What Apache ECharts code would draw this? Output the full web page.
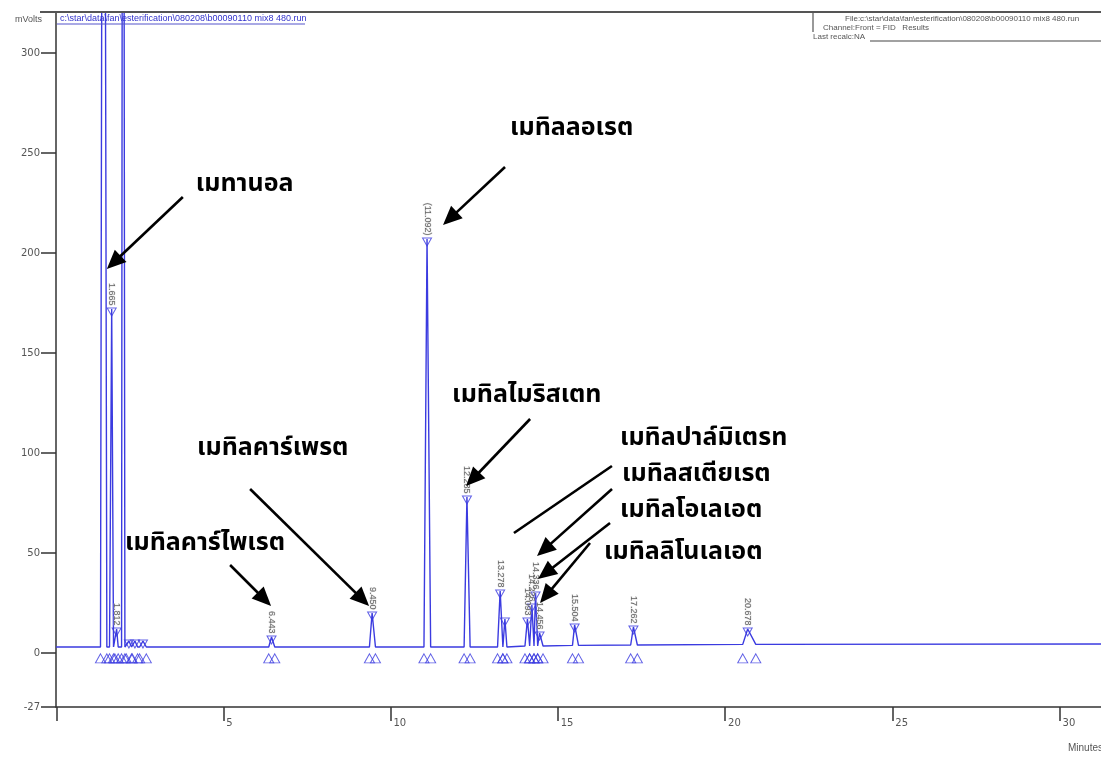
<!DOCTYPE html>
<html>
<head>
<meta charset="utf-8">
<script src="https://cdn.jsdelivr.net/npm/echarts@6/dist/echarts.min.js"></script>
<style>
  html, body { margin: 0; padding: 0; background: #fff; }
  #chart { width: 1101px; height: 757px; }
</style>
</head>
<body>
<div id="chart"></div>
<script>
// FID chromatogram of the esterification product (retention time in minutes, signal in mV)
const peakApex   = [1.42, 1.665, 1.812, 2.003, 2.18, 2.36, 2.60, 6.443, 9.450, 11.092, 12.285, 13.278, 13.42, 14.093, 14.226, 14.336, 14.456, 15.504, 17.262, 20.678];
const peakHeight = [800, 172, 12, 800, 6, 6, 6, 8, 20, 207, 78, 31, 17, 17, 24, 30, 10, 14, 13, 12];
const peakStart  = [1.33, 1.60, 1.76, 1.96, 2.10, 2.28, 2.50, 6.36, 9.37, 11.00, 12.20, 13.20, 13.36, 14.02, 14.16, 14.29, 14.40, 15.44, 17.18, 20.53];
const peakEnd    = [1.52, 1.72, 1.86, 2.06, 2.26, 2.44, 2.70, 6.54, 9.55, 11.20, 12.38, 13.36, 13.48, 14.16, 14.29, 14.40, 14.56, 15.62, 17.38, 20.92];
const peakBase   = [3, 3, 3, 3, 3, 3, 3, 3, 3, 3, 3, 3, 3, 3.5, 3.5, 3.5, 3.5, 3.8, 4.0, 4.3];
const peakLabel  = ['', '1.665', '1.812', '', '', '', '', '6.443', '9.450', '(11.092)', '12.285', '13.278', '', '14.093', '14.226', '14.336', '14.456', '15.504', '17.262', '20.678'];
const runStart = [0, 3];
const runEnd = [31.24, 4.5];

// axis ticks
const xMin = 0, xMax = 31.24, xStep = 5;
const yTicks = [-27, 0, 50, 100, 150, 200, 250, 300];
const yMin = -27, yMax = 320;
const integMarkLevel = -2.7;

// compound names and the point (time, mV) each arrow points at
const compoundNames = ['เมทานอล', 'เมทิลลอเรต', 'เมทิลไมริสเตท', 'เมทิลคาร์เพรต', 'เมทิลคาร์ไพเรต', 'เมทิลปาล์มิเตรท', 'เมทิลสเตียเรต', 'เมทิลโอเลเอต', 'เมทิลลิโนเลเอต'];
const compoundTarget = [[1.52, 192], [11.57, 214], [12.26, 83.5], [9.36, 23.5], [6.43, 23.5], [13.69, 60], [14.38, 48.5], [14.41, 37], [14.47, 25]];

// layout of the annotation arrows (pixel offsets from the arrow tip)
const arrowTail = [[76, -72], [62, -58], [64, -67], [-119, -117], [-41, -41], [98, -67], [75, -67], [72, -56], [50, -60]];
const textOffset = [[89, -83], [67, -95], [-14, -89], [-172, -156], [-146, -61], [106, -93], [85, -80], [82, -67], [64, -49]];
const hasHead = [true, true, true, true, true, false, true, true, true];

const BLUE = '#3b3be0';

// detector trace built from the peak table
const trace = [runStart];
for (let i = 0; i < peakApex.length; i++) {
  trace.push([peakStart[i], peakBase[i]]);
  trace.push([peakApex[i], peakHeight[i]]);
  trace.push([peakEnd[i], peakBase[i]]);
}
trace.push(runEnd);

// peak-top markers (on-scale peaks only) and integration start/stop markers
const apexMarks = [];
const edgeMarks = [];
for (let i = 0; i < peakApex.length; i++) {
  if (peakHeight[i] < yMax) apexMarks.push({ value: [peakApex[i], peakHeight[i]], name: peakLabel[i] });
  edgeMarks.push([peakStart[i], integMarkLevel]);
  edgeMarks.push([peakEnd[i], integMarkLevel]);
}

const chart = echarts.init(document.getElementById('chart'), null, { renderer: 'canvas' });

const option = {
  animation: false,
  backgroundColor: '#fff',
  grid: { left: 56, right: 0, top: 13, bottom: 50, containLabel: false },
  xAxis: {
    type: 'value', min: xMin, max: xMax, interval: xStep,
    splitLine: { show: false },
    axisLine: { show: true, onZero: false, lineStyle: { color: '#333', width: 1.5 } },
    axisTick: { show: true, length: 14, lineStyle: { color: '#333', width: 1.5 } },
    axisLabel: {
      showMinLabel: false, showMaxLabel: false,
      align: 'left', margin: 11, padding: [0, 0, 0, 3],
      fontSize: 10, color: '#555', fontFamily: 'DejaVu Sans'
    }
  },
  yAxis: {
    type: 'value', min: yMin, max: yMax,
    splitLine: { show: false },
    axisLine: { show: true, onZero: false, lineStyle: { color: '#333', width: 1.5 } },
    axisTick: { show: true, length: 15, customValues: yTicks, lineStyle: { color: '#333', width: 1.5 } },
    axisLabel: {
      customValues: yTicks, margin: 16,
      fontSize: 10, color: '#555', fontFamily: 'DejaVu Sans'
    }
  },
  series: [
    {
      type: 'line', data: trace, showSymbol: false, clip: true,
      lineStyle: { color: BLUE, width: 1.4 }, z: 3
    },
    {
      type: 'scatter', data: apexMarks,
      symbol: 'triangle', symbolRotate: 180, symbolSize: [9, 8], symbolOffset: [0, 3],
      itemStyle: { color: 'rgba(255,255,255,0)', borderColor: BLUE, borderWidth: 1 },
      label: {
        show: true, position: 'top', distance: 2, rotate: -90,
        align: 'right', verticalAlign: 'middle',
        formatter: p => p.name,
        fontSize: 9, color: '#444', fontFamily: 'Liberation Sans',
        textBorderColor: 'rgba(200,200,200,0.6)', textBorderWidth: 1
      },
      z: 4
    },
    {
      type: 'scatter', data: edgeMarks,
      symbol: 'triangle', symbolSize: [10, 9],
      itemStyle: { color: 'rgba(255,255,255,0)', borderColor: BLUE, borderWidth: 1 },
      z: 4
    }
  ],
  graphic: []
};

chart.setOption(option);

// header, info box and annotation arrows
function buildGraphics() {
  const g = [];
  const headerFont = '9px "Liberation Sans", sans-serif';
  g.push({ type: 'line', shape: { x1: 40, y1: 12, x2: 1101, y2: 12 }, style: { stroke: '#555', lineWidth: 2 }, z: 10 });
  g.push({ type: 'text', x: 15, y: 15, style: { text: 'mVolts', font: '9px "Liberation Sans", sans-serif', fill: '#555' }, z: 10 });
  g.push({ type: 'text', x: 60, y: 14, style: { text: 'c:\\star\\data\\fan\\esterification\\080208\\b00090110 mix8 480.run', font: headerFont, fill: '#3333cc' }, z: 10 });
  g.push({ type: 'line', shape: { x1: 57, y1: 24, x2: 305, y2: 24 }, style: { stroke: '#5555cc', lineWidth: 1.2 }, z: 10 });
  g.push({ type: 'line', shape: { x1: 813, y1: 12, x2: 813, y2: 32 }, style: { stroke: '#555', lineWidth: 1.2 }, z: 10 });
  g.push({ type: 'text', x: 845, y: 15, style: { text: 'File:c:\\star\\data\\fan\\esterification\\080208\\b00090110 mix8 480.run', font: '8px "Liberation Sans", sans-serif', fill: '#555' }, z: 10 });
  g.push({ type: 'text', x: 823, y: 24, style: { text: 'Channel:Front = FID   Results', font: '8px "Liberation Sans", sans-serif', fill: '#555' }, z: 10 });
  g.push({ type: 'text', x: 813, y: 33, style: { text: 'Last recalc:NA', font: '8px "Liberation Sans", sans-serif', fill: '#555' }, z: 10 });
  g.push({ type: 'line', shape: { x1: 870, y1: 41, x2: 1101, y2: 41 }, style: { stroke: '#444', lineWidth: 1.2 }, z: 10 });
  g.push({ type: 'line', shape: { x1: 57, y1: 707, x2: 57, y2: 721 }, style: { stroke: '#333', lineWidth: 1.5 }, z: 10 });
  g.push({ type: 'text', x: 1068, y: 743, style: { text: 'Minutes', font: '10px "Liberation Sans", sans-serif', fill: '#555' }, z: 10 });

  const headLen = 19, headHalf = 8.5;
  for (let i = 0; i < compoundNames.length; i++) {
    const tip = chart.convertToPixel({ gridIndex: 0 }, compoundTarget[i]);
    const tail = [tip[0] + arrowTail[i][0], tip[1] + arrowTail[i][1]];
    const dx = tip[0] - tail[0], dy = tip[1] - tail[1];
    const len = Math.sqrt(dx * dx + dy * dy);
    const ux = dx / len, uy = dy / len;
    const nx = -uy, ny = ux;
    const lineEnd = hasHead[i] ? [tip[0] - ux * headLen * 0.8, tip[1] - uy * headLen * 0.8] : tip;
    g.push({ type: 'line', shape: { x1: tail[0], y1: tail[1], x2: lineEnd[0], y2: lineEnd[1] }, style: { stroke: '#000', lineWidth: 2.6 }, z: 20 });
    if (hasHead[i]) {
      const bx = tip[0] - ux * headLen, by = tip[1] - uy * headLen;
      g.push({ type: 'polygon', shape: { points: [tip, [bx + nx * headHalf, by + ny * headHalf], [bx - nx * headHalf, by - ny * headHalf]] }, style: { fill: '#000' }, z: 20 });
    }
    g.push({
      type: 'text', x: tip[0] + textOffset[i][0], y: tip[1] + textOffset[i][1],
      style: { text: compoundNames[i], font: 'bold 25px "Noto Sans Thai", "Noto Sans", "DejaVu Sans", sans-serif', fill: '#000', verticalAlign: 'middle', align: 'left' },
      z: 20
    });
  }
  return g;
}

chart.setOption({ graphic: buildGraphics() });
</script>
</body>
</html>
